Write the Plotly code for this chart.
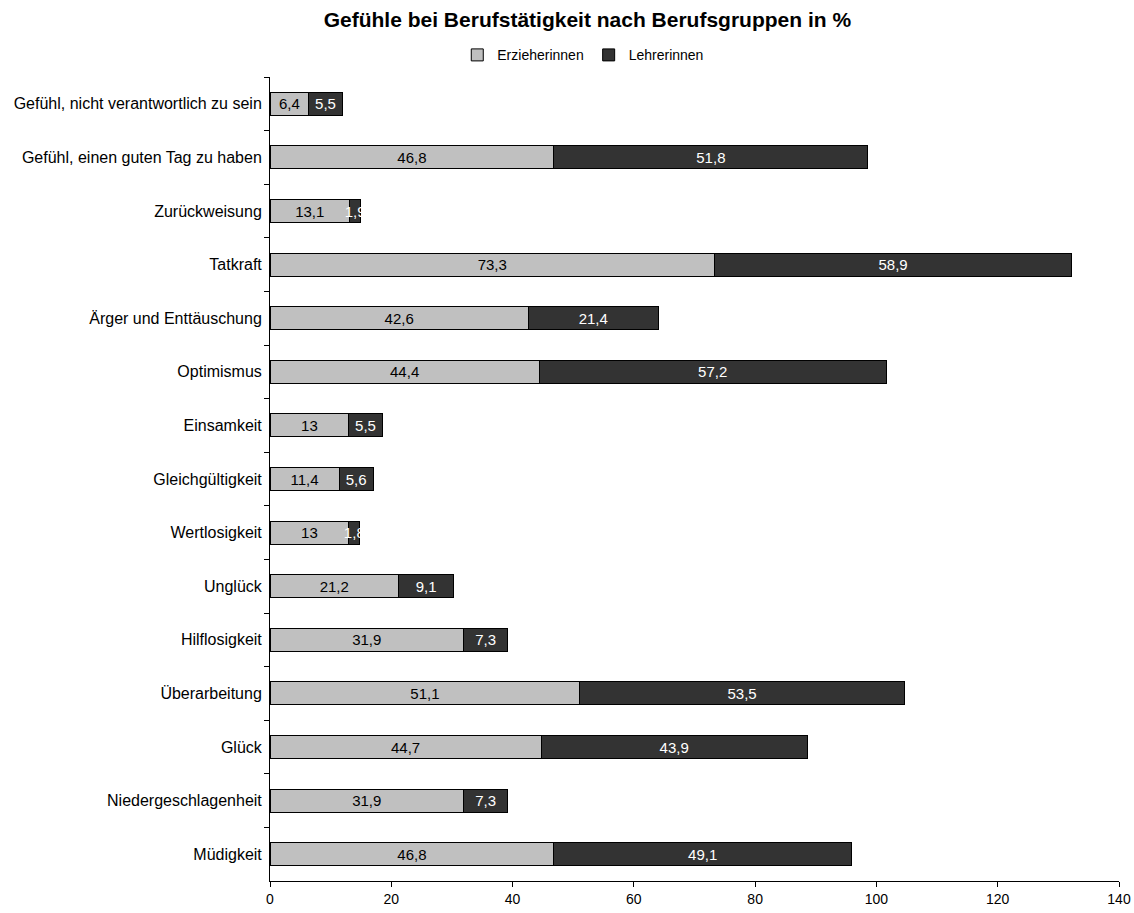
import plotly.graph_objects as go

categories = [
    "Gefühl, nicht verantwortlich zu sein",
    "Gefühl, einen guten Tag zu haben",
    "Zurückweisung",
    "Tatkraft",
    "Ärger und Enttäuschung",
    "Optimismus",
    "Einsamkeit",
    "Gleichgültigkeit",
    "Wertlosigkeit",
    "Unglück",
    "Hilflosigkeit",
    "Überarbeitung",
    "Glück",
    "Niedergeschlagenheit",
    "Müdigkeit",
]
erzieherinnen = [6.4, 46.8, 13.1, 73.3, 42.6, 44.4, 13, 11.4, 13, 21.2, 31.9, 51.1, 44.7, 31.9, 46.8]
lehrerinnen = [5.5, 51.8, 1.9, 58.9, 21.4, 57.2, 5.5, 5.6, 1.8, 9.1, 7.3, 53.5, 43.9, 7.3, 49.1]
x_ticks = [0, 20, 40, 60, 80, 100, 120, 140]

FONT = "Liberation Sans, Arial, sans-serif"


def fmt(v):
    return f"{v:g}".replace(".", ",")


fig = go.Figure()
fig.add_trace(go.Bar(
    y=categories, x=erzieherinnen, orientation="h", name="Erzieherinnen",
    marker=dict(color="#C0C0C0", line=dict(color="#000000", width=1)),
    text=[fmt(v) for v in erzieherinnen], textposition="inside", textangle=0,
    insidetextanchor="middle", textfont=dict(color="#000000", size=15),
    constraintext="none",
))
fig.add_trace(go.Bar(
    y=categories, x=lehrerinnen, orientation="h", name="Lehrerinnen",
    marker=dict(color="#333333", line=dict(color="#000000", width=1)),
    text=[fmt(v) for v in lehrerinnen], textposition="inside", textangle=0,
    insidetextanchor="middle", textfont=dict(color="#FFFFFF", size=15),
    constraintext="none",
))

fig.update_layout(
    barmode="stack",
    bargap=0.57,
    width=1134, height=913,
    paper_bgcolor="white", plot_bgcolor="white",
    font=dict(family=FONT, size=15, color="#000000"),
    margin=dict(l=270, r=15, t=77, b=32),
    title=dict(text="<b>Gefühle bei Berufstätigkeit nach Berufsgruppen in %</b>",
               x=0.518, xanchor="center", y=0.978, yanchor="middle",
               font=dict(size=21, family=FONT)),
    legend=dict(orientation="h", x=0.369, xanchor="center", y=1.027, yanchor="middle",
                font=dict(size=14), traceorder="normal", itemwidth=30,
                bgcolor="rgba(0,0,0,0)"),
    uniformtext=dict(minsize=15, mode="show"),
    xaxis=dict(range=[0, 140], tickvals=x_ticks, ticktext=[str(t) for t in x_ticks],
               showgrid=False, zeroline=False, showline=True, linecolor="#000000",
               linewidth=1, ticks="outside", ticklen=5, tickcolor="#000000",
               tickfont=dict(size=14), automargin=False),
    yaxis=dict(autorange="reversed", showgrid=False, showline=True, linecolor="#000000",
               linewidth=1, ticks="outside", ticklen=5, tickcolor="#000000",
               tickson="boundaries", ticklabelstandoff=4, tickfont=dict(size=16),
               automargin=False),
)

fig.write_html("out.html")
